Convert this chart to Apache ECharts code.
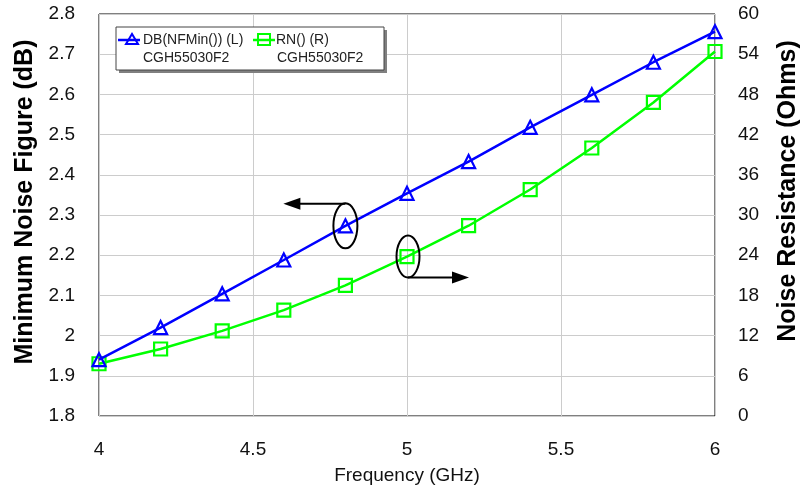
<!DOCTYPE html>
<html>
<head>
<meta charset="utf-8">
<script src="https://cdn.jsdelivr.net/npm/echarts@6/dist/echarts.min.js"></script>
<style>
  html, body { margin: 0; padding: 0; background: #fff; }
  #main { width: 808px; height: 486px; }
</style>
</head>
<body>
<div id="main"></div>
<script>
// frequency points (GHz)
var freq = [4, 4.2, 4.4, 4.6, 4.8, 5, 5.2, 5.4, 5.6, 5.8, 6];
// DB(NFMin()) left axis, dB
var nfMin = [1.94, 2.02, 2.104, 2.188, 2.273, 2.354, 2.433, 2.518, 2.599, 2.68, 2.756];
// RN() right axis, Ohms
var rn = [7.8, 10.0, 12.7, 15.8, 19.5, 23.8, 28.4, 33.8, 40.0, 46.8, 54.4];

var legendNames = ['DB(NFMin()) (L)', 'RN() (R)'];
var legendSub = 'CGH55030F2';

var FONT = '"Liberation Sans", Arial, sans-serif';
var BLUE = '#0000ff';
var GREEN = '#00ff00';

var chart = echarts.init(document.getElementById('main'), null, { renderer: 'canvas' });

function pairs(xs, ys) {
  return xs.map(function (x, i) { return [x, ys[i]]; });
}

var option = {
  animation: false,
  backgroundColor: '#fff',
  grid: {
    left: 99,
    right: 93,
    top: 14,
    bottom: 70,
    show: true,
    borderColor: '#000',
    borderWidth: 1,
    containLabel: false,
    outerBoundsMode: 'none'
  },
  xAxis: {
    type: 'value',
    min: 4,
    max: 6,
    interval: 0.5,
    name: 'Frequency (GHz)',
    nameLocation: 'middle',
    nameGap: 50,
    nameTextStyle: { fontFamily: FONT, fontSize: 19, color: '#111' },
    axisLine: { show: false },
    axisTick: { show: false },
    axisLabel: { fontFamily: FONT, fontSize: 19, color: '#111', margin: 24 },
    splitLine: { show: true, lineStyle: { color: '#cccccc', width: 1 } }
  },
  yAxis: [{
    type: 'value',
    position: 'left',
    min: 1.8,
    max: 2.8,
    interval: 0.1,
    axisLine: { show: false },
    axisTick: { show: false },
    axisLabel: { fontFamily: FONT, fontSize: 19, color: '#111', margin: 24, padding: [5, 0, 0, 0] },
    splitLine: { show: true, lineStyle: { color: '#cccccc', width: 1 } }
  }, {
    type: 'value',
    position: 'right',
    min: 0,
    max: 60,
    interval: 6,
    axisLine: { show: false },
    axisTick: { show: false },
    axisLabel: { fontFamily: FONT, fontSize: 19, color: '#111', margin: 23, padding: [5, 0, 0, 0] },
    splitLine: { show: false }
  }],
  series: [{
    name: legendNames[0],
    type: 'line',
    yAxisIndex: 0,
    data: pairs(freq, nfMin),
    symbol: 'triangle',
    symbolSize: 13,
    lineStyle: { color: BLUE, width: 2.5 },
    itemStyle: { color: 'rgba(0,0,0,0)', borderColor: BLUE, borderWidth: 2.2 },
    z: 3
  }, {
    name: legendNames[1],
    type: 'line',
    yAxisIndex: 1,
    data: pairs(freq, rn),
    symbol: 'rect',
    symbolSize: 13,
    lineStyle: { color: GREEN, width: 2.5 },
    itemStyle: { color: 'rgba(0,0,0,0)', borderColor: GREEN, borderWidth: 2.2 },
    z: 2
  }]
};
chart.setOption(option);

// annotations: ellipse on a marker + arrow pointing to its axis
var pL = chart.convertToPixel({ xAxisIndex: 0, yAxisIndex: 0 }, [freq[4], nfMin[4]]);
var pR = chart.convertToPixel({ xAxisIndex: 0, yAxisIndex: 1 }, [freq[5], rn[5]]);

var graphics = [
  // axis titles
  {
    type: 'text', x: 25, y: 202, rotation: Math.PI / 2,
    style: { text: 'Minimum Noise Figure (dB)', font: 'bold 25px ' + FONT, fill: '#000', align: 'center', verticalAlign: 'middle' }
  },
  {
    type: 'text', x: 788, y: 191, rotation: Math.PI / 2,
    style: { text: 'Noise Resistance (Ohms)', font: 'bold 25px ' + FONT, fill: '#000', align: 'center', verticalAlign: 'middle' }
  },
  // left annotation
  {
    type: 'ellipse', shape: { cx: pL[0], cy: pL[1], rx: 12, ry: 22.5 },
    style: { fill: 'none', stroke: '#000', lineWidth: 2 }, z: 10
  },
  {
    type: 'line', shape: { x1: pL[0], y1: pL[1] - 22, x2: pL[0] - 50, y2: pL[1] - 22 },
    style: { stroke: '#000', lineWidth: 2 }, z: 10
  },
  {
    type: 'polygon',
    shape: { points: [[pL[0] - 62, pL[1] - 22], [pL[0] - 45, pL[1] - 28], [pL[0] - 45, pL[1] - 16]] },
    style: { fill: '#000' }, z: 10
  },
  // right annotation
  {
    type: 'ellipse', shape: { cx: pR[0] + 1, cy: pR[1], rx: 11.5, ry: 21 },
    style: { fill: 'none', stroke: '#000', lineWidth: 2 }, z: 10
  },
  {
    type: 'line', shape: { x1: pR[0] + 1, y1: pR[1] + 21, x2: pR[0] + 50, y2: pR[1] + 21 },
    style: { stroke: '#000', lineWidth: 2 }, z: 10
  },
  {
    type: 'polygon',
    shape: { points: [[pR[0] + 62, pR[1] + 21], [pR[0] + 45, pR[1] + 15], [pR[0] + 45, pR[1] + 27]] },
    style: { fill: '#000' }, z: 10
  },
  // legend box with shadow
  { type: 'rect', shape: { x: 119, y: 30, width: 268, height: 43 }, style: { fill: '#808080' }, z: 20 },
  { type: 'rect', shape: { x: 116, y: 27, width: 268, height: 43 }, style: { fill: '#fff', stroke: '#444', lineWidth: 1 }, z: 21 },
  // legend item 1
  { type: 'line', shape: { x1: 118, y1: 40, x2: 140, y2: 40 }, style: { stroke: BLUE, lineWidth: 2.5 }, z: 22 },
  { type: 'polygon', shape: { points: [[126, 44], [138, 44], [132, 34]] }, style: { fill: 'none', stroke: BLUE, lineWidth: 2 }, z: 22 },
  { type: 'text', x: 143, y: 40, style: { text: legendNames[0], font: '14px ' + FONT, fill: '#222', verticalAlign: 'middle' }, z: 22 },
  { type: 'text', x: 143, y: 58, style: { text: legendSub, font: '14px ' + FONT, fill: '#222', verticalAlign: 'middle' }, z: 22 },
  // legend item 2
  { type: 'line', shape: { x1: 253, y1: 40, x2: 275, y2: 40 }, style: { stroke: GREEN, lineWidth: 2.5 }, z: 22 },
  { type: 'rect', shape: { x: 258, y: 34, width: 12, height: 11 }, style: { fill: 'none', stroke: GREEN, lineWidth: 2 }, z: 22 },
  { type: 'text', x: 276, y: 40, style: { text: legendNames[1], font: '14px ' + FONT, fill: '#222', verticalAlign: 'middle' }, z: 22 },
  { type: 'text', x: 277, y: 58, style: { text: legendSub, font: '14px ' + FONT, fill: '#222', verticalAlign: 'middle' }, z: 22 }
];

chart.setOption({ graphic: graphics });
</script>
</body>
</html>
